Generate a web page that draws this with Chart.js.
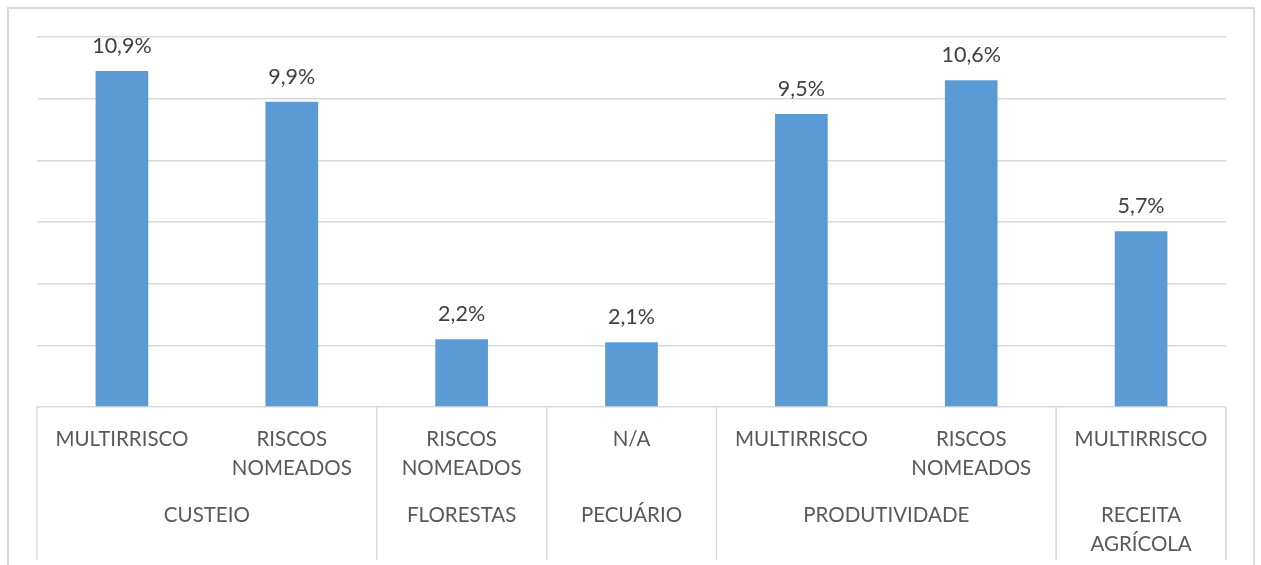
<!DOCTYPE html>
<html>
<head>
<meta charset="utf-8">
<script src="https://cdn.jsdelivr.net/npm/chart.js@4/dist/chart.umd.min.js"></script>
<style>
  html, body { margin: 0; padding: 0; background: #ffffff; }
  #wrap { width: 1261px; height: 565px; position: relative; }
</style>
</head>
<body>
<div id="wrap"><canvas id="c" width="1261" height="565"></canvas></div>
<script>
const categories = [["MULTIRRISCO"], ["RISCOS", "NOMEADOS"], ["RISCOS", "NOMEADOS"], ["N/A"], ["MULTIRRISCO"], ["RISCOS", "NOMEADOS"], ["MULTIRRISCO"]];
const values = [10.9, 9.9, 2.2, 2.1, 9.5, 10.6, 5.7];
const groupNames = [["CUSTEIO"], ["FLORESTAS"], ["PECUÁRIO"], ["PRODUTIVIDADE"], ["RECEITA", "AGRÍCOLA"]];
const groupSpans = [2, 1, 1, 2, 1];
const yMin = 0, yMax = 12, yStep = 2;

const FONT = "Lato, 'Open Sans', sans-serif";
const gridColor = '#d9d9d9';

const extras = {
  id: 'extras',
  afterDraw(chart) {
    const ctx = chart.ctx;
    const x = chart.scales.x;
    const area = chart.chartArea;
    const half = (x.getPixelForValue(1) - x.getPixelForValue(0)) / 2;
    ctx.save();
    // outer frame
    ctx.strokeStyle = gridColor;
    ctx.lineWidth = 2;
    ctx.beginPath();
    ctx.moveTo(8, 565);
    ctx.lineTo(8, 8);
    ctx.lineTo(1254, 8);
    ctx.lineTo(1254, 565);
    ctx.stroke();
    // group separators and labels
    ctx.lineWidth = 1.5;
    let idx = 0;
    const bottom = 560;
    const drawSep = (px) => {
      ctx.beginPath();
      ctx.moveTo(px, area.bottom);
      ctx.lineTo(px, bottom);
      ctx.stroke();
    };
    drawSep(x.getPixelForValue(0) - half);
    ctx.font = "20.5px " + FONT;
    ctx.fillStyle = '#595959';
    ctx.textAlign = 'center';
    ctx.textBaseline = 'middle';
    groupSpans.forEach((span, g) => {
      const left = x.getPixelForValue(idx) - half;
      const right = x.getPixelForValue(idx + span - 1) + half;
      drawSep(right);
      const cx = (left + right) / 2;
      groupNames[g].forEach((line, li) => {
        ctx.fillText(line, cx, 515 + li * 29);
      });
      idx += span;
    });
    // data labels
    ctx.font = "21.5px " + FONT;
    ctx.fillStyle = '#404040';
    ctx.textBaseline = 'alphabetic';
    const meta = chart.getDatasetMeta(0);
    meta.data.forEach((bar, i) => {
      const txt = values[i].toFixed(1).replace('.', ',') + '%';
      ctx.fillText(txt, bar.x, bar.y - 18);
    });
    ctx.restore();
  }
};

new Chart(document.getElementById('c'), {
  type: 'bar',
  data: {
    labels: categories,
    datasets: [{
      data: values,
      backgroundColor: '#5b9bd5',
      borderWidth: 0,
      categoryPercentage: 1.0,
      barPercentage: 0.31
    }]
  },
  options: {
    responsive: false,
    animation: false,
    events: [],
    layout: { padding: { left: 37, right: 35, top: 37, bottom: 0 } },
    plugins: { legend: { display: false }, tooltip: { enabled: false } },
    scales: {
      x: {
        grid: { display: false },
        border: { display: false },
        ticks: {
          font: { family: FONT, size: 20.5, lineHeight: 1.415 },
          color: '#595959',
          padding: 10,
          maxRotation: 0,
          autoSkip: false
        },
        afterFit: (s) => { s.height = 158; }
      },
      y: {
        min: yMin,
        max: yMax,
        ticks: { stepSize: yStep, display: false },
        grid: { color: gridColor, lineWidth: 1.5, drawTicks: false },
        border: { display: false },
        afterFit: (s) => { s.width = 0; }
      }
    }
  },
  plugins: [extras]
});
</script>
</body>
</html>
